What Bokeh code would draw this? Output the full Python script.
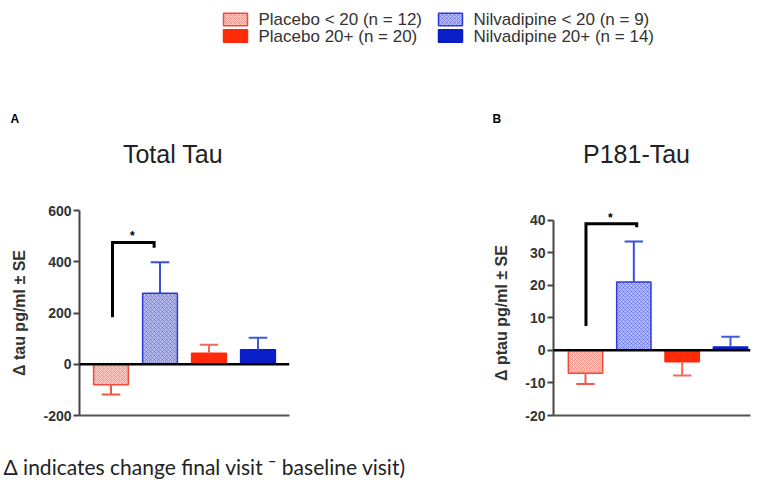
from bokeh.plotting import figure
from bokeh.models import Range1d, Span, ColumnDataSource, FixedTicker, PrintfTickFormatter
from bokeh.layouts import column, row
from bokeh.embed import file_html
from bokeh.resources import INLINE
from bokeh.core.properties import value

# ---------------- data ----------------
groups = ["Placebo < 20", "Nilvadipine < 20", "Placebo 20+", "Nilvadipine 20+"]
legend_labels = ["Placebo < 20 (n = 12)", "Nilvadipine < 20 (n = 9)",
                 "Placebo 20+ (n = 20)", "Nilvadipine 20+ (n = 14)"]
tau_mean = [-80, 277, 43, 57]
tau_se = [38, 121, 33, 46]
ptau_mean = [-7.0, 21.0, -3.5, 1.0]
ptau_se = [3.3, 12.4, 4.2, 3.2]
tau_ticks = [-200, 0, 200, 400, 600]
ptau_ticks = [-20, -10, 0, 10, 20, 30, 40]
tau_bracket_x = [0.03, 0.88]
tau_bracket_y = [183, 475, 455]
ptau_bracket_x = [0.01, 1.06]
ptau_bracket_y = [7.5, 38.9, 37.8]
panel_letters = ["A", "B"]
panel_titles = ["Total Tau", "P181-Tau"]
footnote = "\u0394 indicates change final visit \u02c9 baseline visit)"

# ---------------- styles ----------------
FILL = ["#f8c6bf", "#b4b9f0", "#ff2a0a", "#0a1ec8"]
LINE = ["#f04b3a", "#2a3bd8", "#ff2a0a", "#0a1ec8"]
HATCH = ["x", "x", " ", " "]
HATCH_COL = ["#f0705f", "#4a58dc", "#ff2a0a", "#0a1ec8"]
ERR = ["#f05a48", "#3a4fe0", "#f46a58", "#3e5bd8"]
FONT = value("Liberation Sans")

W = 767
TOP_H = 193
ROW_H = 247
FOOT_H = 45


def strip(height):
    s = figure(width=W, height=height, x_range=Range1d(0, W), y_range=Range1d(height, 0),
               output_backend="svg", toolbar_location=None, x_axis_type=None,
               y_axis_type=None, min_border=0, outline_line_color=None)
    s.grid.visible = False
    return s


def make_panel(mean, se, ticks, yr, bounds, xr, width, borders, ylabel, bx, by):
    bl, br, bt, bb = borders
    p = figure(width=width, height=ROW_H, x_range=Range1d(*xr), y_range=Range1d(*yr),
               output_backend="svg", toolbar_location=None,
               min_border_left=bl, min_border_right=br,
               min_border_top=bt, min_border_bottom=bb,
               outline_line_color=None)
    p.grid.visible = False

    xs = list(range(len(mean)))
    src = ColumnDataSource(dict(x=xs, top=mean, fill=FILL, line=LINE,
                                hatch=HATCH, hc=HATCH_COL, name=groups))
    p.vbar(x="x", top="top", bottom=0, width=0.71, source=src,
           fill_color="fill", line_color="line", line_width=1.5,
           hatch_pattern="hatch", hatch_color="hc", hatch_scale=4,
           hatch_weight=0.7, hatch_alpha=0.75)

    ends = [m + (s if m >= 0 else -s) for m, s in zip(mean, se)]
    esrc = ColumnDataSource(dict(x=xs, y0=mean, y1=ends, c=ERR,
                                 cl=[x - 0.19 for x in xs],
                                 cr=[x + 0.19 for x in xs]))
    p.segment(x0="x", y0="y0", x1="x", y1="y1", line_color="c",
              line_width=2, source=esrc)
    p.segment(x0="cl", y0="y1", x1="cr", y1="y1", line_color="c",
              line_width=2, source=esrc)

    p.add_layout(Span(location=0, dimension="width", line_color="black",
                      line_width=2.5))

    # significance bracket
    p.line(x=[bx[0], bx[0], bx[1], bx[1]], y=[by[0], by[1], by[1], by[2]],
           line_color="black", line_width=3, line_join="miter")
    span = bounds[1] - bounds[0]
    p.text(x=[(bx[0] + bx[1]) / 2 - 0.02], y=[by[1] + span * 0.03],
           text=["*"], text_font=FONT, text_font_size="12px",
           text_font_style="bold", text_align="center",
           text_baseline="middle", text_color="black")

    yax = p.yaxis[0]
    yax.bounds = bounds
    yax.ticker = FixedTicker(ticks=ticks)
    yax.formatter = PrintfTickFormatter(format="%d")
    yax.axis_line_width = 2
    yax.axis_line_color = "#444444"
    yax.major_tick_line_width = 2
    yax.major_tick_line_color = "#444444"
    yax.major_tick_out = 6
    yax.major_tick_in = 0
    yax.minor_tick_line_color = None
    yax.major_label_standoff = 2
    yax.major_label_text_font = "Liberation Sans"
    yax.major_label_text_font_size = "14px"
    yax.major_label_text_font_style = "bold"
    yax.major_label_text_color = "#333333"
    yax.axis_label = ylabel
    yax.axis_label_text_font = "Liberation Sans"
    yax.axis_label_text_font_size = "16px"
    yax.axis_label_text_font_style = "bold"
    yax.axis_label_text_color = "#333333"
    yax.axis_label_standoff = 12

    xax = p.xaxis[0]
    xax.axis_line_width = 2
    xax.axis_line_color = "#555555"
    xax.major_tick_line_color = None
    xax.minor_tick_line_color = None
    xax.major_label_text_font_size = "0px"
    xax.major_label_text_alpha = 0
    return p


pA = make_panel(tau_mean, tau_se, tau_ticks, (-200, 600), (-200, 600), (-0.643, 3.643),
                485, (79, 196, 17, 25), "\u0394 tau pg/ml \u00b1 SE",
                tau_bracket_x, tau_bracket_y)
pB = make_panel(ptau_mean, ptau_se, ptau_ticks, (-20, 42.93), (-20, 40), (-0.662, 3.414),
                282, (68, 17, 14, 18), "\u0394 ptau pg/ml \u00b1 SE",
                ptau_bracket_x, ptau_bracket_y)

# ---------------- top strip: legend, panel letters, titles ----------------
top = strip(TOP_H)
col_x = [223, 438]
row_y = [19, 35.5]
lx0 = [col_x[i % 2] for i in range(4)]
ly = [row_y[i // 2] for i in range(4)]
lsrc = ColumnDataSource(dict(left=lx0, right=[x + 24 for x in lx0],
                             top=[y - 6.2 for y in ly], bottom=[y + 6.2 for y in ly],
                             fill=FILL, line=LINE, hatch=HATCH, hc=HATCH_COL,
                             tx=[x + 35 for x in lx0], ty=ly, label=legend_labels))
top.quad(left="left", right="right", top="top", bottom="bottom", source=lsrc,
         fill_color="fill", line_color="line", line_width=1.5,
         hatch_pattern="hatch", hatch_color="hc", hatch_scale=4,
         hatch_weight=0.7, hatch_alpha=0.75)
top.text(x="tx", y="ty", text="label", source=lsrc, text_font=FONT,
         text_font_size="17px", text_color="#333333", text_baseline="middle",
         text_align="left")
top.text(x=[10, 492], y=[118, 118], text=panel_letters, text_font=FONT,
         text_font_size="12px", text_font_style="bold", text_color="black",
         text_baseline="alphabetic", text_align="left")
top.text(x=[172.5, 636], y=[153, 153], text=panel_titles, text_font=FONT,
         text_font_size="25px", text_color="#222222",
         text_baseline="alphabetic", text_align="center")

# ---------------- footnote strip ----------------
foot = strip(FOOT_H)
foot.text(x=[3], y=[26], text=[footnote], text_font=value("Lato"),
          text_font_size="21px", text_color="#222222",
          text_baseline="alphabetic", text_align="left")

layout = column(top, row(pA, pB), foot)
open("out.html", "w").write(file_html(layout, INLINE))
